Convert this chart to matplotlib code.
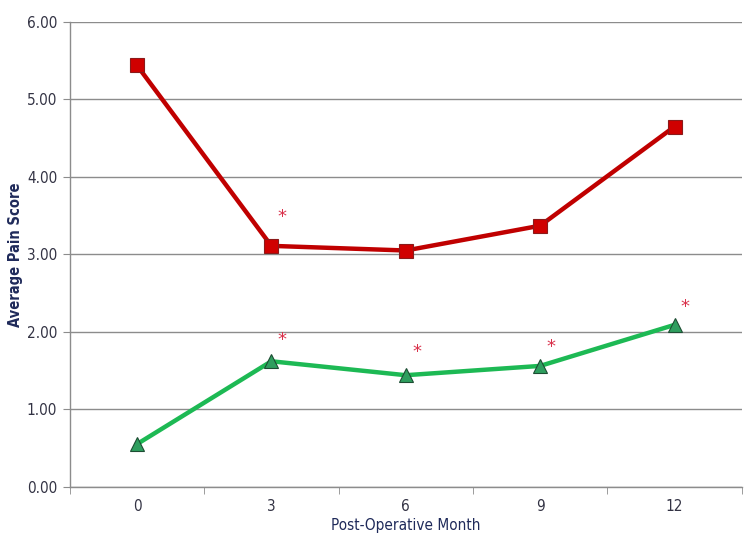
import matplotlib
matplotlib.use("Agg")
import matplotlib.pyplot as plt
import numpy as np

# --- dados ---
meses = ["0", "3", "6", "9", "12"]
dor_vermelho = [5.44, 3.11, 3.05, 3.37, 4.65]
dor_verde = [0.55, 1.62, 1.44, 1.56, 2.09]

# asteriscos de significancia: (indice do mes, valor y)
asteriscos = [(1, 3.48), (1, 1.90), (2, 1.74), (3, 1.80), (4, 2.32)]

NAVY = "#1f2a5a"
GRID = "#8c8c8c"

plt.rcParams["font.family"] = ["DejaVu Sans"]

fig = plt.figure(figsize=(7.5, 5.5), dpi=100)
ax = fig.add_axes([0.093, 0.115, 0.896, 0.845])

x = np.arange(len(meses))

ax.plot(x, dor_vermelho, color="#c00000", linewidth=3.2, marker="s",
        markersize=10, markerfacecolor="#d00000", markeredgecolor="#8b1a1a",
        markeredgewidth=0.8, zorder=3)
ax.plot(x, dor_verde, color="#1db954", linewidth=3.2, marker="^",
        markersize=10, markerfacecolor="#2e9e5e", markeredgecolor="#1d4d33",
        markeredgewidth=0.8, zorder=3)

for i, yv in asteriscos:
    ax.text(x[i] + 0.08, yv, "*", color="#d9304a", fontsize=13,
            ha="center", va="center", zorder=4)

ax.set_xlim(-0.5, len(meses) - 0.5)
ax.set_ylim(0, 6)
ax.set_yticks(np.arange(0, 7, 1))
ax.set_yticklabels([f"{v:.2f}" for v in np.arange(0, 7, 1)])
ax.yaxis.grid(True, color=GRID, linewidth=1.0)
ax.set_axisbelow(True)

ax.set_xticks(x)
ax.set_xticklabels(meses)
ax.set_xticks(np.arange(-0.5, len(meses)), minor=True)
ax.tick_params(axis="x", which="major", length=0, pad=9)
ax.tick_params(axis="x", which="minor", length=5, color=GRID, direction="out")
ax.tick_params(axis="y", length=5, color=GRID, direction="out", pad=4)

for lbl in ax.get_xticklabels() + ax.get_yticklabels():
    lbl.set_fontstretch("condensed")
    lbl.set_fontsize(11)
    lbl.set_color("#333344")

for s in ["top", "right"]:
    ax.spines[s].set_visible(False)
for s in ["left", "bottom"]:
    ax.spines[s].set_color(GRID)
    ax.spines[s].set_linewidth(1.0)

ax.set_xlabel("Post-Operative Month", fontsize=11, color=NAVY,
              fontstretch="condensed")
ax.set_ylabel("Average Pain Score", fontsize=10.5, color=NAVY,
              fontweight="bold", fontstretch="condensed")
ax.yaxis.set_label_coords(-0.070, 0.5)
ax.xaxis.set_label_coords(0.5, -0.068)

fig.savefig("out.png", dpi=100)
